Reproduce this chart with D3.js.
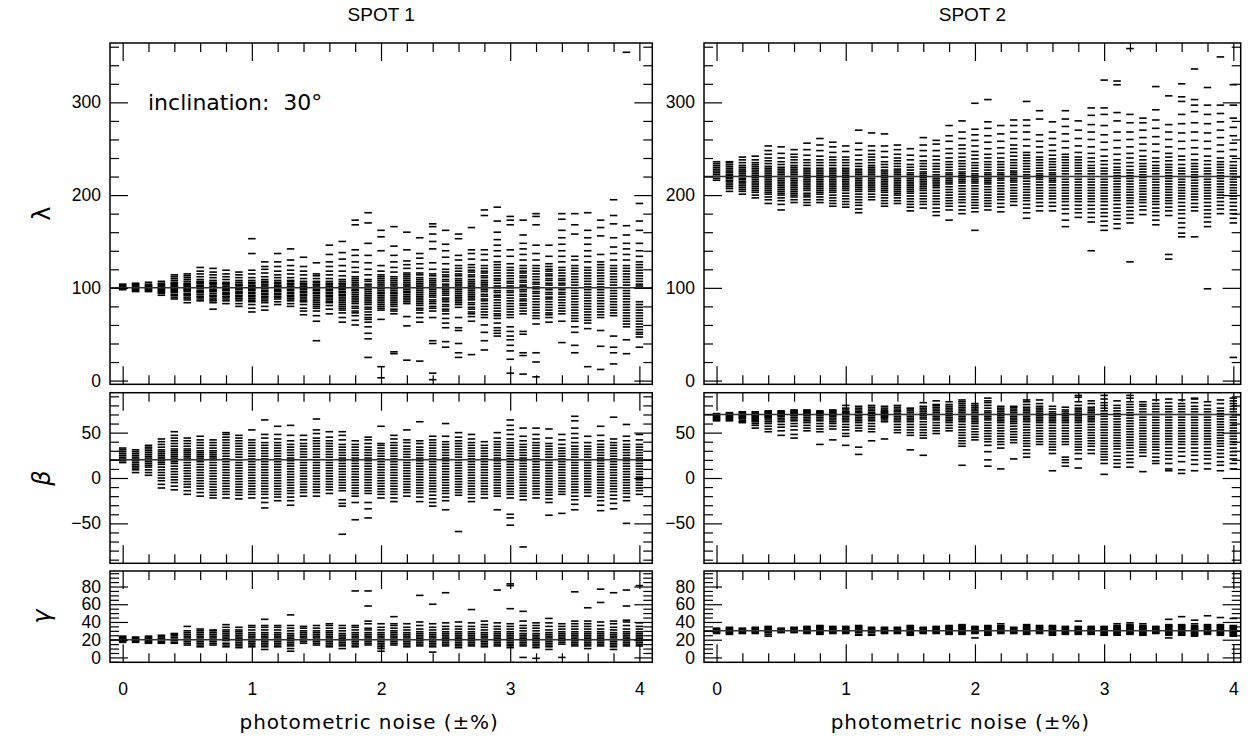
<!DOCTYPE html>
<html>
<head>
<meta charset="utf-8">
<script src="https://cdn.jsdelivr.net/npm/d3@7"></script>
<style>
  html, body { margin: 0; padding: 0; background: #fff; }
  svg { display: block; }
</style>
</head>
<body>
<svg id="chart" width="1248" height="742"></svg>
<script>
// ---------------- DATA ----------------
const noise = [0.0,0.1,0.2,0.3,0.4,0.5,0.6,0.7,0.8,0.9,1.0,1.1,1.2,1.3,1.4,1.5,1.6,1.7,1.8,1.9,2.0,
               2.1,2.2,2.3,2.4,2.5,2.6,2.7,2.8,2.9,3.0,3.1,3.2,3.3,3.4,3.5,3.6,3.7,3.8,3.9,4.0];

const spotTitles = ["SPOT 1", "SPOT 2"];
const paramLabels = ["λ", "β", "γ"];
const trueLambda = [100, 220];
const trueBeta = [20, 70];
const trueGamma = [20, 30];
const xTickLabels = [0, 1, 2, 3, 4];
const lambdaTicks = [0, 100, 200, 300];
const betaTicks = [-50, 0, 50];
const gammaTicks = [0, 20, 40, 60, 80];
const inclinationText = "inclination:  30°";
const xAxisTitle = "photometric noise (±%)";

// SPOT 1, longitude λ (one list of solutions per noise level)
const spot1Lambda = [
 [98,99,100,101,102,103,104],
 [96,97,98,99,100,101,102,103,104,105],
 [96,97,98,99,100,101,102,103,104,106],
 [92,94,95,96,97,98,99,100,101,102,103,104,105,107],
 [88,90,92,93,95,96,97,98,99,100,101,102,103,104,105,106,108,110,112,114],
 [84,87,89,90,92,93,94,96,97,98,99,100,101,102,103,104,105,107,109,111,113,115],
 [86,88,90,91,93,95,96,97,99,100,101,102,103,105,106,107,109,112,115,118,122],
 [77,84,86,87,89,91,92,94,96,97,98,100,101,102,104,105,106,108,111,114,117,121],
 [83,86,88,90,91,93,94,95,97,98,99,100,101,102,104,105,106,109,112,115,119],
 [80,83,86,88,89,91,92,94,95,96,98,99,100,102,103,104,106,108,111,114,117],
 [74,78,82,85,86,88,89,91,92,94,95,97,98,99,101,102,103,105,106,108,111,115,119,137,153],
 [76,80,84,86,88,90,91,93,94,96,97,99,100,101,103,104,106,107,109,112,116,120,123,128],
 [82,85,88,90,91,93,94,96,97,98,100,101,102,103,105,106,108,111,114,118,123,128,137],
 [80,83,86,88,89,91,92,94,95,97,98,100,101,102,104,105,107,108,111,115,119,124,130,142],
 [71,75,78,82,85,86,88,90,92,93,95,96,98,99,101,102,104,105,107,110,114,118,123,133],
 [43,64,70,75,78,80,82,84,86,88,90,92,94,95,97,98,100,101,103,104,106,107,110,113,115,127],
 [72,77,81,84,85,87,89,91,92,94,95,97,98,100,101,102,104,105,107,110,114,118,123,128,136,146],
 [63,68,73,76,78,80,82,84,86,88,90,92,93,95,96,98,99,101,102,104,105,107,109,113,118,124,131,138,150],
 [60,65,70,73,75,78,80,83,85,87,89,91,93,95,97,98,100,102,104,106,108,110,112,117,122,128,135,141,168,173],
 [25,45,51,58,63,66,68,71,74,77,79,82,84,86,88,90,92,94,96,98,100,102,104,107,109,114,120,127,135,148,170,181],
 [3,15,66,76,78,80,82,84,86,88,90,92,94,95,97,99,100,102,104,106,108,110,112,114,118,124,140,155,162],
 [29,31,72,75,77,80,82,84,86,88,90,92,94,95,97,99,100,102,104,106,108,110,112,117,122,128,135,145,166],
 [22,59,69,83,85,87,89,91,93,95,96,98,100,101,103,104,106,108,110,112,114,116,121,125,129,141,160],
 [21,63,68,73,76,78,81,83,85,87,89,91,93,95,97,99,101,103,105,107,109,111,114,116,121,126,132,137,154],
 [1,8,40,43,68,75,78,80,83,85,87,90,92,94,96,98,100,102,104,106,108,110,113,115,120,127,142,150,158,166,169],
 [36,42,57,62,67,72,75,77,80,82,85,87,89,92,94,96,98,100,102,104,107,109,112,114,117,120,126,133,140,147,162],
 [25,30,40,54,57,68,79,82,84,86,88,90,92,94,96,98,100,102,104,106,108,110,113,115,118,121,124,130,135,153,158],
 [28,64,69,72,74,77,79,82,84,87,89,91,93,95,97,99,101,103,105,107,109,112,114,117,119,122,125,131,137,141,165],
 [33,43,52,60,68,71,74,77,80,83,86,88,91,93,96,98,100,102,104,106,108,111,113,116,118,121,124,130,136,141,178,184],
 [48,51,54,57,62,67,70,72,75,78,81,84,87,90,92,95,97,100,102,105,108,110,113,116,119,122,125,128,134,140,146,152,160,172,187],
 [8,23,32,38,44,48,53,58,68,71,74,77,80,83,86,89,92,95,97,100,102,105,107,110,113,116,119,122,126,134,141,168,173,177],
 [7,27,30,50,53,72,75,78,81,83,86,88,91,93,96,98,101,103,106,108,111,113,116,118,121,124,130,136,142,148,157,173],
 [4,20,30,61,67,70,73,76,79,82,85,88,91,94,96,99,101,104,106,109,112,115,118,121,124,130,137,146,168,177,180],
 [63,68,71,73,76,79,82,85,88,90,93,95,98,100,103,105,108,110,113,115,118,120,123,126,134,146],
 [41,64,72,75,78,81,84,87,90,93,95,98,100,103,105,108,110,113,116,119,122,128,134,140,147,154,162,174,180],
 [30,38,52,58,64,67,70,73,76,79,82,85,88,91,94,97,100,103,106,109,112,115,118,121,124,130,134,158,168,180],
 [15,56,62,65,68,71,74,77,80,83,86,89,92,95,98,101,104,107,110,113,116,119,122,128,134,140,147,154,162,181],
 [12,37,54,68,71,74,77,80,83,86,89,92,95,98,101,104,107,110,113,116,119,122,125,128,136,156,165,173],
 [18,30,36,48,70,73,76,79,82,85,88,91,94,97,100,103,106,109,112,115,118,121,124,130,137,144,154,169,178,195],
 [29,44,58,61,64,67,70,73,76,79,82,85,88,91,94,97,100,103,106,109,112,115,118,121,124,130,136,142,148,157,167,354],
 [36,47,50,52,55,58,61,64,67,70,73,76,79,82,85,100,102,104,107,110,113,116,119,122,125,128,134,140,148,162,172,191]
];

// SPOT 2, longitude λ
const spot2Lambda = [
 [216,218,220,222,224,226,228,230,232,234,236],
 [204,207,209,211,213,215,216,218,219,221,222,224,225,227,229,231,233,235,236],
 [201,204,206,208,210,212,214,215,217,218,220,221,223,225,226,228,230,232,235,238,241],
 [197,200,203,205,207,209,211,213,215,217,219,221,223,225,227,229,231,233,235,238,242],
 [191,195,198,201,203,205,207,209,211,213,215,217,219,221,223,225,227,229,231,234,237,240,244,248,253],
 [184,190,194,197,200,202,204,206,208,210,212,214,216,218,220,222,224,226,228,230,233,236,240,245,252],
 [192,195,198,200,202,204,206,208,210,212,214,216,218,220,222,224,226,228,230,232,235,238,241,244,249],
 [189,192,195,198,200,202,205,207,209,211,213,215,217,219,221,223,225,227,229,232,235,238,243,249,256],
 [192,195,198,201,203,205,207,209,211,213,215,217,219,221,223,225,227,229,232,235,238,242,248,254,261],
 [188,191,194,197,200,203,205,207,209,211,213,215,217,219,221,223,225,227,229,232,235,238,241,246,252,257],
 [187,190,193,196,199,202,205,207,209,211,213,215,217,219,221,223,225,227,229,232,235,238,241,247,253],
 [181,185,189,192,195,198,201,204,206,208,210,212,214,216,218,220,222,224,226,228,231,234,238,243,249,256,270],
 [195,198,201,204,206,208,210,212,214,216,218,220,222,224,226,228,230,232,235,238,241,244,248,253,267],
 [188,191,194,197,200,203,205,207,209,211,213,215,217,219,221,223,225,227,230,233,236,241,247,253,266],
 [191,194,197,200,202,204,206,208,210,212,214,216,218,220,222,224,226,228,231,234,237,240,244,249,254],
 [183,187,190,193,196,199,202,204,206,208,210,212,214,216,218,220,222,224,227,230,233,238,243,250],
 [186,190,193,196,199,202,205,207,209,211,213,215,217,219,221,223,225,228,231,234,237,242,248,254,262],
 [178,182,186,190,193,196,199,202,205,208,210,212,214,216,218,220,222,225,228,231,234,238,242,248,255,259],
 [173,184,188,191,194,197,200,203,206,209,212,214,216,218,220,222,224,227,230,233,236,240,245,250,258,264,275],
 [180,184,188,192,195,198,201,204,207,210,213,215,217,219,221,223,225,228,231,234,237,241,245,250,254,261,268,280],
 [162,182,186,189,192,195,198,201,204,207,210,213,215,217,219,221,223,226,229,232,235,239,243,247,253,259,265,271,299],
 [184,188,191,194,197,200,203,206,209,212,214,216,218,220,222,224,227,230,233,236,240,244,250,257,264,272,279,303],
 [182,187,191,195,198,201,204,207,210,213,216,218,220,222,224,227,230,233,236,240,245,251,258,266,275],
 [189,193,196,199,202,205,208,211,214,216,218,220,222,224,226,229,232,235,238,242,246,250,254,261,268,275,281],
 [175,181,186,190,194,197,200,203,206,209,212,215,218,220,222,225,228,231,234,237,240,243,246,253,260,268,275,281,301],
 [183,188,192,196,199,202,205,208,211,214,217,219,221,223,226,229,232,235,238,241,246,252,258,265,282,291],
 [183,188,192,196,199,202,205,208,211,214,216,218,220,222,224,227,230,233,236,239,243,248,254,261,268,279],
 [166,173,180,185,189,193,196,199,202,205,208,211,214,217,220,223,226,229,232,235,238,241,244,251,258,266,274,282,291],
 [176,181,185,189,193,196,199,202,205,208,211,214,217,220,223,226,229,232,235,238,241,246,253,261,270,280],
 [140,171,176,181,185,189,193,196,199,202,205,208,211,214,217,220,223,226,229,232,236,240,245,252,260,268,276,286,294],
 [162,167,172,177,181,185,189,193,196,199,202,205,208,211,214,217,220,223,226,229,233,237,242,249,257,265,275,287,294,324],
 [164,169,174,178,182,186,190,194,197,200,203,206,209,212,215,218,221,224,227,230,234,238,244,251,259,268,280,289,319,323],
 [128,170,175,179,183,187,191,194,197,200,203,206,209,212,215,218,221,224,227,231,235,240,245,252,260,268,278,287,358],
 [179,184,188,192,195,198,201,204,207,210,213,216,219,222,225,228,231,234,238,242,248,255,262,270,278,283],
 [168,173,178,182,186,190,193,196,199,202,205,208,211,214,217,220,223,226,229,232,236,240,247,255,263,272,281,292,317],
 [131,136,178,183,187,191,194,197,200,203,206,209,212,215,218,221,224,227,230,233,237,241,245,252,260,268,276,307],
 [155,159,165,170,175,180,184,188,192,196,199,202,205,208,211,214,217,220,223,226,229,233,238,242,250,258,267,277,287,301,306,320],
 [155,183,187,191,195,198,201,204,207,210,213,216,219,222,225,228,231,234,238,244,251,259,268,278,290,297,303,336],
 [99,166,171,176,180,184,188,192,196,199,202,205,208,211,214,217,220,223,226,229,233,237,242,250,258,267,277,287,297,316],
 [180,185,189,193,197,200,203,206,209,212,215,218,221,224,227,230,233,236,240,247,254,262,270,279,288,297,349],
 [25,170,175,180,184,188,192,196,199,202,205,208,211,214,217,220,223,226,229,232,236,242,249,256,264,273,283,297,319]
];

// SPOT 1, latitude β
const spot1Beta = [
 [17,19,21,23,25,27,29,31,33],
 [6,9,11,13,15,17,19,21,23,25,27,29,31],
 [3,6,9,12,14,16,18,20,22,24,26,28,30,32,34,36],
 [-11,-7,-3,0,3,6,9,12,15,17,19,21,23,25,27,29,31,34,37,40,43],
 [-13,-9,-5,-2,1,4,7,10,13,16,18,20,22,24,26,28,30,32,35,38,41,44,47,51],
 [-18,-14,-10,-7,-4,-1,2,5,8,11,14,17,20,22,24,26,28,30,32,35,38,41,44],
 [-20,-16,-12,-9,-6,-3,0,3,6,9,12,15,18,20,22,24,26,28,30,33,36,39,42,46],
 [-22,-19,-16,-13,-10,-7,-4,-1,2,5,8,11,14,17,20,22,24,26,28,30,33,36,39,42],
 [-22,-18,-15,-12,-9,-6,-3,0,3,6,9,12,15,18,21,24,27,30,33,36,39,42,45,48,50],
 [-23,-19,-16,-13,-10,-7,-4,-1,2,5,8,11,14,17,20,23,26,29,32,35,38,41,44,47],
 [-22,-18,-15,-12,-9,-6,-3,0,3,6,9,12,15,18,21,24,27,30,33,36,39,42,53],
 [-33,-27,-22,-18,-15,-12,-9,-6,-3,0,3,6,9,12,15,18,21,24,27,30,33,36,39,44,48,64],
 [-25,-21,-18,-15,-12,-9,-6,-3,0,3,6,9,12,15,18,21,24,27,30,33,36,39,43,48,57],
 [-30,-25,-21,-17,-14,-11,-8,-5,-2,1,4,7,10,13,16,19,22,25,28,31,34,37,41,47,58],
 [-20,-16,-13,-10,-7,-4,-1,2,5,8,11,14,17,20,23,26,29,32,35,38,42,47],
 [-20,-16,-13,-10,-7,-4,-1,2,5,8,11,14,17,20,23,26,29,32,35,38,41,44,49,53,65],
 [-17,-13,-10,-7,-4,-1,2,5,8,11,14,17,20,23,26,29,32,35,38,41,45,51],
 [-62,-31,-28,-24,-14,-11,-8,-5,-2,1,4,7,10,13,16,19,22,25,28,31,34,37,42,47,51],
 [-46,-27,-20,-17,-14,-11,-8,-5,-2,1,4,7,10,13,16,19,22,25,28,31,34,37,41],
 [-44,-34,-27,-17,-14,-11,-8,-5,-2,1,4,7,10,13,16,19,22,25,28,31,34,38,42,45],
 [-22,-18,-15,-12,-9,-6,-3,0,3,6,9,12,15,18,21,24,27,30,33,36,38,57],
 [-26,-22,-18,-15,-12,-9,-6,-3,0,3,6,9,12,15,18,21,24,27,30,33,36,39,43,47],
 [-20,-16,-13,-10,-7,-4,-1,2,5,8,11,14,17,20,23,26,29,32,35,39,42,53],
 [-26,-21,-17,-14,-11,-8,-5,-2,1,4,7,10,13,16,19,22,25,28,31,34,38,41,62],
 [-31,-27,-23,-19,-15,-12,-9,-6,-3,0,3,6,9,12,15,18,21,24,27,30,33,36,39,42,46],
 [-35,-25,-21,-17,-14,-11,-8,-5,-2,1,4,7,10,13,16,19,22,25,28,31,34,37,40,46,60],
 [-59,-19,-16,-13,-10,-7,-4,-1,2,5,8,11,14,17,20,23,26,29,32,35,38,41,45,50],
 [-26,-22,-18,-15,-12,-9,-6,-3,0,3,6,9,12,15,18,21,24,27,30,33,36,39,43,48],
 [-22,-18,-15,-12,-9,-6,-3,0,3,6,9,12,15,18,21,24,27,30,33,36,40],
 [-35,-20,-17,-14,-11,-8,-5,-2,1,4,7,10,13,16,19,22,25,28,31,34,37,40,44,50],
 [-52,-44,-40,-22,-18,-15,-12,-9,-6,-3,0,3,6,9,12,15,18,21,24,27,30,33,36,39,43,48,53,58,64],
 [-76,-24,-20,-17,-14,-11,-8,-5,-2,1,4,7,10,13,16,19,22,25,28,31,34,37,41,46,55],
 [-22,-18,-15,-12,-9,-6,-3,0,3,6,9,12,15,18,21,24,27,30,33,36,39,43,48,55],
 [-41,-27,-23,-19,-16,-13,-10,-7,-4,-1,2,5,8,11,14,17,20,23,26,29,32,35,38,44,54],
 [-39,-18,-15,-12,-9,-6,-3,0,3,6,9,12,15,18,21,24,27,30,33,37,42,48],
 [-35,-29,-24,-20,-16,-13,-10,-7,-4,-1,2,5,8,11,14,17,20,23,26,29,32,35,39,44,49,55,63,68],
 [-20,-16,-13,-10,-7,-4,-1,2,5,8,11,14,17,20,23,26,29,32,35,39,46],
 [-36,-30,-25,-21,-17,-14,-11,-8,-5,-2,1,4,7,10,13,16,19,22,25,28,31,34,37,41,47,57],
 [-34,-28,-23,-19,-15,-12,-9,-6,-3,0,3,6,9,12,15,18,21,24,27,30,33,36,39,43,67],
 [-50,-25,-21,-17,-14,-11,-8,-5,-2,1,4,7,10,13,16,19,22,25,28,31,34,37,41,46,59],
 [-18,-14,-11,-8,-5,-2,1,4,7,10,13,16,19,22,25,28,31,34,37,42,48]
];

// SPOT 2, latitude β
const spot2Beta = [
 [63,64,65,66,67,68,69,70,71],
 [63,64,65,66,67,68,69,70,71,72],
 [61,62,63,65,66,67,68,69,70,71,72,73],
 [55,58,60,62,63,64,65,66,67,68,69,70,71,72,73],
 [51,54,57,60,62,64,66,67,68,69,70,71,72,73,74],
 [47,52,56,59,62,64,66,68,69,70,71,72,73,74],
 [44,48,53,57,60,63,65,67,69,70,71,72,73,74,75],
 [52,55,58,61,63,65,67,69,70,71,72,73,74,75],
 [37,51,54,57,60,63,65,67,69,70,71,72,73,74],
 [42,54,57,60,62,64,66,68,69,70,71,72,73,74,75],
 [36,46,49,53,56,59,62,64,66,68,70,71,72,73,75,77,80],
 [26,34,52,55,58,61,63,65,67,69,70,72,73,75,77,79],
 [41,51,54,57,60,63,65,67,69,71,72,74,76,78,80],
 [43,62,64,66,67,68,69,70,71,72,73,74,75,77,79],
 [50,53,56,59,62,64,66,68,70,71,73,74,76,78,80],
 [31,47,50,53,56,59,62,64,66,68,70,72,74,76,77],
 [25,44,47,50,53,56,59,62,65,67,69,71,73,75,77,79,83],
 [49,52,55,58,61,64,66,68,70,72,74,76,78,80,81,85],
 [52,55,58,61,63,65,67,69,71,73,75,77,79,81,84],
 [14,35,38,41,44,47,50,53,56,59,62,64,66,68,70,72,74,76,78,80,82,84,86],
 [42,45,48,51,54,57,60,62,64,66,68,70,72,74,76,78,80,82],
 [13,20,29,36,40,43,46,49,52,55,58,61,64,66,68,70,72,74,77,80,83,85,88],
 [10,33,37,40,43,46,49,52,55,58,61,63,65,67,69,71,73,75,77,79],
 [21,39,42,45,48,51,54,57,60,62,64,66,68,70,72,74,76,78,79],
 [23,27,31,35,38,41,44,47,50,53,56,59,62,64,66,68,70,72,74,76,78,81,84,86],
 [37,40,43,46,49,52,55,58,61,63,65,67,69,71,73,75,77,79,82,86],
 [8,27,31,34,37,40,43,46,49,52,55,58,61,63,65,67,69,71,73,76,79],
 [13,17,20,23,37,40,43,46,49,52,55,58,61,63,65,67,69,71,73,75,78],
 [11,21,27,31,34,37,40,43,46,49,52,55,58,61,63,65,67,69,71,73,75,77,80,84,89,91],
 [27,31,35,38,41,44,47,50,53,56,59,62,64,66,68,70,72,74,76,78,82,85],
 [4,16,20,23,26,29,32,35,38,41,44,47,50,53,56,59,62,65,68,71,74,77,80,83,87,91],
 [12,16,20,24,28,32,35,38,41,44,47,50,53,56,59,62,65,68,71,74,77,80,85],
 [12,17,21,25,29,33,36,39,42,45,48,51,54,57,60,63,66,69,72,75,78,81,84,88,91],
 [7,24,28,31,34,37,40,43,46,49,52,55,58,61,64,67,70,73,76,79,81,84],
 [16,19,23,27,31,34,37,40,43,46,49,52,55,58,61,64,67,70,73,76,79,82,86],
 [8,10,16,21,25,29,33,37,40,43,46,49,52,55,58,61,64,67,70,73,76,79,83,87],
 [5,9,18,24,29,33,37,40,43,46,49,52,55,58,61,64,67,70,73,76,79,82,86],
 [8,15,20,25,29,33,37,40,43,46,49,52,55,58,61,64,67,70,73,76,79,83,87,88],
 [10,16,21,25,29,33,37,40,43,46,49,52,55,58,61,64,67,70,73,76,80,84],
 [8,14,18,23,27,31,35,38,41,44,47,50,53,56,59,62,65,68,71,74,77,82,86],
 [10,16,21,25,29,33,37,40,43,46,49,52,55,58,61,64,67,70,73,76,79,82,85,88]
];

// SPOT 1, radius γ
const spot1Gamma = [
 [17,18,19,20,21,22,23,24],
 [17,18,19,20,21,22,23],
 [16,17,18,19,20,21,22,23,24],
 [16,17,18,20,21,22,24,25],
 [16,17,19,20,22,23,25,26,27],
 [14,16,18,20,22,24,26,28,30,35],
 [12,14,16,18,20,22,24,26,28,30,32],
 [14,16,18,20,22,24,26,28,30,31],
 [12,14,16,19,21,23,25,27,29,31,34,37],
 [11,13,15,17,19,21,23,25,27,29,31,34],
 [12,14,16,18,20,22,24,26,28,31,34,36],
 [9,12,14,16,18,20,22,24,26,28,31,34,36,43],
 [12,14,16,18,20,22,24,26,28,31,34,36],
 [7,10,13,15,17,19,21,23,25,27,30,33,36,48],
 [16,18,20,22,24,26,28,30,33,35],
 [14,16,18,20,22,24,26,28,30,33,36],
 [12,14,16,18,20,22,24,26,28,30,33,36,38],
 [10,13,15,17,19,21,23,25,27,30,33,36],
 [12,14,16,18,20,22,24,26,28,31,34,36,75],
 [14,16,18,20,22,24,26,28,31,33,38,41,58,75],
 [7,10,12,14,16,18,20,22,24,26,28,31,34,38],
 [14,16,18,20,22,24,26,28,30,33,36,38,46],
 [12,14,16,18,20,22,24,26,28,31,34,38],
 [13,15,17,19,21,23,25,27,29,32,36,40,70],
 [6,12,14,16,18,20,22,24,26,28,31,34,38,60],
 [13,15,17,19,21,23,25,27,29,32,35,39,73],
 [11,13,15,17,19,21,23,25,27,29,32,35,40],
 [13,15,17,19,21,23,25,27,29,32,35,39,54],
 [12,14,16,18,20,22,24,26,28,31,34,37,41],
 [13,15,17,19,21,23,25,27,29,32,35,39,76],
 [11,13,15,17,19,21,23,25,27,29,32,35,38,55,81,83],
 [0,13,15,17,19,21,23,25,27,30,33,36,41,52],
 [-1,11,13,15,17,19,21,23,25,27,30,33,36,39],
 [9,12,14,16,18,20,22,24,26,28,31,35,39,44],
 [0,15,17,19,21,23,25,27,29,32,35,38],
 [13,15,17,19,21,23,25,27,29,32,35,38,41,74],
 [10,13,15,17,19,21,23,25,27,29,32,35,38,41,56],
 [13,15,17,19,21,23,25,27,29,32,36,40,62,77],
 [9,12,14,16,18,20,22,24,26,28,31,34,38,41,73],
 [13,15,17,19,21,23,25,27,29,32,36,40,42,58,76],
 [13,15,17,19,21,23,25,27,29,32,35,39,81]
];

// SPOT 2, radius γ
const spot2Gamma = [
 [27,28,29,30,31,32,33],
 [26,27,28,29,30,31,32,33,34],
 [27,28,29,30,31,32,33],
 [27,28,29,30,31,32,33,34],
 [24,26,28,29,30,31,32,33,34,35],
 [28,29,30,31,32,33],
 [28,29,30,31,32,33,34],
 [27,28,29,30,31,32,33,34,35],
 [26,27,28,29,30,31,32,33,34,35,36],
 [27,28,29,30,31,32,33,34,35],
 [27,28,29,30,31,32,33,34,35],
 [25,26,28,29,30,31,32,33,34,35,36],
 [25,26,28,29,30,31,32,33,34],
 [27,28,29,30,31,32,33,34],
 [27,28,29,30,31,32,33,34],
 [25,26,27,28,29,30,31,32,33,34,35,36],
 [27,28,29,30,31,32,33,34],
 [27,28,29,30,31,32,33,34,35],
 [26,27,28,29,30,31,32,33,34,35,36],
 [26,27,28,29,30,31,32,33,34,35,36,37],
 [22,27,28,29,30,31,32,33,34,35],
 [25,26,27,28,29,30,31,32,33,34,35,36],
 [27,28,29,30,31,32,33,34,35,36,38],
 [27,28,29,30,31,32,33,34],
 [26,27,28,29,30,31,32,33,34,35,36,37],
 [27,28,29,30,31,32,33,34,35,36],
 [25,26,27,28,29,30,31,32,33,34,35,36],
 [26,27,28,29,30,31,32,33,34,35],
 [26,27,28,29,30,31,32,33,34,35,41],
 [26,27,28,29,30,31,32,33,34,35],
 [25,26,27,28,29,30,31,32,33,34,35],
 [25,26,27,28,29,30,31,32,33,34,35,36,38],
 [26,27,28,29,30,31,32,33,34,35,36,37,39],
 [25,26,27,28,29,30,31,32,33,34,35,36,38],
 [27,28,29,30,31,32,33,34,35],
 [22,25,26,27,28,29,30,31,32,33,34,35,36,37,43],
 [25,26,27,28,29,30,31,32,33,34,35,36,37,46],
 [24,25,26,27,28,29,30,31,32,33,34,35,36,38,42],
 [26,27,28,29,30,31,32,33,34,35,36,37,47],
 [25,26,27,28,29,30,31,32,33,34,35,36,37,45],
 [24,25,26,27,28,29,30,31,32,33,34,35,36,44]
];

// ---------------- LAYOUT ----------------
const svg = d3.select("#chart");
const cols = [
  { x0: 110, x1: 652.3, dom: [-0.098, 4.1] },
  { x0: 704, x1: 1240.7, dom: [-0.097, 4.057] }
];
const rows = [
  { y0: 43,    y1: 384.3, dom: [-4, 364],    major: lambdaTicks, minorStep: 20, trues: trueLambda, data: [spot1Lambda, spot2Lambda] },
  { y0: 392.7, y1: 563.3, dom: [-94, 94],    major: betaTicks,   minorStep: 10, trues: trueBeta,   data: [spot1Beta, spot2Beta] },
  { y0: 571,   y1: 662.3, dom: [-5.5, 97.5], major: gammaTicks,  minorStep: 5,  trues: trueGamma,  data: [spot1Gamma, spot2Gamma] }
];
const MAJ = 18, MIN = 9;
const DASH_W = 7.5, DASH_H = 1.6;
const tickFont = "'Liberation Sans', Arial, Helvetica, sans-serif";
const labelFont = "'DejaVu Sans', sans-serif";

const xMinor = d3.range(0, 4.0001, 0.2).map(v => +v.toFixed(1)).filter(v => Math.abs(v - Math.round(v)) > 1e-6);

cols.forEach((c, ci) => {
  const x = d3.scaleLinear().domain(c.dom).range([c.x0, c.x1]);
  rows.forEach((r, ri) => {
    const y = d3.scaleLinear().domain(r.dom).range([r.y1, r.y0]);
    const g = svg.append("g");
    const clipId = `clip-${ci}-${ri}`;
    svg.append("clipPath").attr("id", clipId).append("rect")
      .attr("x", c.x0).attr("y", r.y0).attr("width", c.x1 - c.x0).attr("height", r.y1 - r.y0);

    const yMinor = d3.range(Math.ceil(r.dom[0] / r.minorStep) * r.minorStep, r.dom[1], r.minorStep)
      .filter(v => !r.major.includes(v));

    const marks = g.append("g").attr("clip-path", `url(#${clipId})`);
    const flat = [];
    r.data[ci].forEach((vals, i) => vals.forEach(v => flat.push({ n: noise[i], v })));
    marks.selectAll("rect").data(flat).join("rect")
      .attr("x", d => x(d.n) - DASH_W / 2)
      .attr("y", d => y(d.v) - DASH_H / 2)
      .attr("width", DASH_W)
      .attr("height", DASH_H)
      .attr("fill", "#000");

    marks.append("line")
      .attr("x1", c.x0).attr("x2", c.x1)
      .attr("y1", y(r.trues[ci])).attr("y2", y(r.trues[ci]))
      .attr("stroke", "#333").attr("stroke-width", 1.5);

    const styleAxis = sel => {
      sel.select(".domain").remove();
      sel.selectAll("line").attr("stroke", "#000").attr("stroke-width", 1.2);
      sel.selectAll("text").attr("font-family", tickFont).attr("font-size", 17.5).attr("fill", "#000");
    };
    g.append("g").attr("transform", `translate(${c.x0},0)`)
      .call(d3.axisLeft(y).tickValues(r.major).tickSizeInner(-MAJ).tickSizeOuter(0).tickPadding(9).tickFormat(d3.format("d")))
      .call(styleAxis);
    g.append("g").attr("transform", `translate(${c.x0},0)`)
      .call(d3.axisLeft(y).tickValues(yMinor).tickSizeInner(-MIN).tickSizeOuter(0).tickFormat(""))
      .call(styleAxis);
    g.append("g").attr("transform", `translate(${c.x1},0)`)
      .call(d3.axisRight(y).tickValues(r.major).tickSizeInner(-MAJ).tickSizeOuter(0).tickFormat(""))
      .call(styleAxis);
    g.append("g").attr("transform", `translate(${c.x1},0)`)
      .call(d3.axisRight(y).tickValues(yMinor).tickSizeInner(-MIN).tickSizeOuter(0).tickFormat(""))
      .call(styleAxis);
    g.append("g").attr("transform", `translate(0,${r.y0})`)
      .call(d3.axisTop(x).tickValues(xTickLabels).tickSizeInner(-MAJ).tickSizeOuter(0).tickFormat(""))
      .call(styleAxis);
    g.append("g").attr("transform", `translate(0,${r.y0})`)
      .call(d3.axisTop(x).tickValues(xMinor).tickSizeInner(-MIN).tickSizeOuter(0).tickFormat(""))
      .call(styleAxis);
    g.append("g").attr("transform", `translate(0,${r.y1})`)
      .call(d3.axisBottom(x).tickValues(xTickLabels).tickSizeInner(-MAJ).tickSizeOuter(0).tickPadding(20)
        .tickFormat(ri === 2 ? d3.format("d") : ""))
      .call(styleAxis);
    g.append("g").attr("transform", `translate(0,${r.y1})`)
      .call(d3.axisBottom(x).tickValues(xMinor).tickSizeInner(-MIN).tickSizeOuter(0).tickFormat(""))
      .call(styleAxis);

    g.append("rect")
      .attr("x", c.x0).attr("y", r.y0)
      .attr("width", c.x1 - c.x0).attr("height", r.y1 - r.y0)
      .attr("fill", "none").attr("stroke", "#000").attr("stroke-width", 1.5);

    if (ci === 0) {
      svg.append("text")
        .attr("transform", `translate(42,${(r.y0 + r.y1) / 2}) rotate(-90)`)
        .attr("text-anchor", "middle")
        .attr("dominant-baseline", "central")
        .attr("font-family", labelFont)
        .attr("font-style", ri === 0 ? "normal" : "italic")
        .attr("font-size", 24)
        .text(paramLabels[ri]);
    }
  });

  svg.append("text")
    .attr("x", (c.x0 + c.x1) / 2).attr("y", 21)
    .attr("text-anchor", "middle")
    .attr("font-family", tickFont).attr("font-size", 19)
    .text(spotTitles[ci]);

  svg.append("text")
    .attr("x", (c.x0 + c.x1) / 2 - 12).attr("y", 729)
    .attr("text-anchor", "middle")
    .attr("font-family", labelFont).attr("font-size", 20)
    .attr("letter-spacing", 0.9)
    .text(xAxisTitle);
});

svg.append("text")
  .attr("x", 148).attr("y", 110)
  .attr("font-family", labelFont).attr("font-size", 22)
  .style("white-space", "pre")
  .text(inclinationText);
</script>
</body>
</html>
